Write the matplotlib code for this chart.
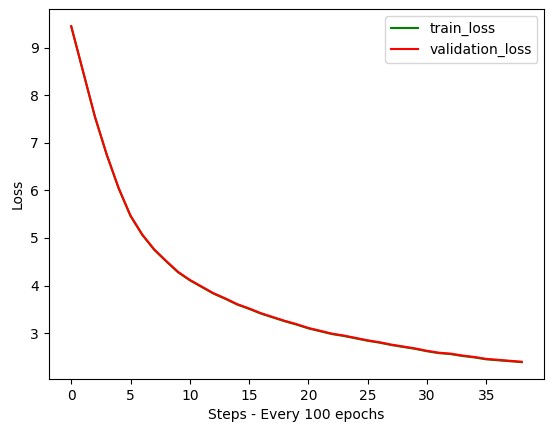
import matplotlib
matplotlib.use("Agg")
import matplotlib.pyplot as plt

steps = list(range(39))
train_loss = [9.44, 8.49, 7.54, 6.74, 6.04, 5.46, 5.06, 4.75, 4.51, 4.28,
              4.11, 3.97, 3.83, 3.72, 3.60, 3.51, 3.41, 3.33, 3.25, 3.18,
              3.10, 3.04, 2.98, 2.94, 2.89, 2.84, 2.80, 2.75, 2.71, 2.67,
              2.62, 2.58, 2.56, 2.52, 2.49, 2.45, 2.43, 2.41, 2.39]
validation_loss = [9.45, 8.50, 7.55, 6.75, 6.05, 5.47, 5.07, 4.76, 4.52, 4.29,
                   4.12, 3.98, 3.84, 3.73, 3.61, 3.52, 3.42, 3.34, 3.26, 3.19,
                   3.11, 3.05, 2.99, 2.95, 2.90, 2.85, 2.81, 2.76, 2.72, 2.68,
                   2.63, 2.59, 2.57, 2.53, 2.50, 2.46, 2.44, 2.42, 2.40]

fig = plt.figure(figsize=(5.54, 4.32), dpi=100)
ax = fig.add_axes([48.7/554, 1-379/432, (544.3-48.7)/554, (379-9.3)/432])
ax.plot(steps, train_loss, color="green", label="train_loss")
ax.plot(steps, validation_loss, color="red", label="validation_loss")
ax.set_xlabel("Steps - Every 100 epochs")
ax.set_ylabel("Loss")
ax.legend(loc="upper right")
fig.savefig("out.png", dpi=100)
